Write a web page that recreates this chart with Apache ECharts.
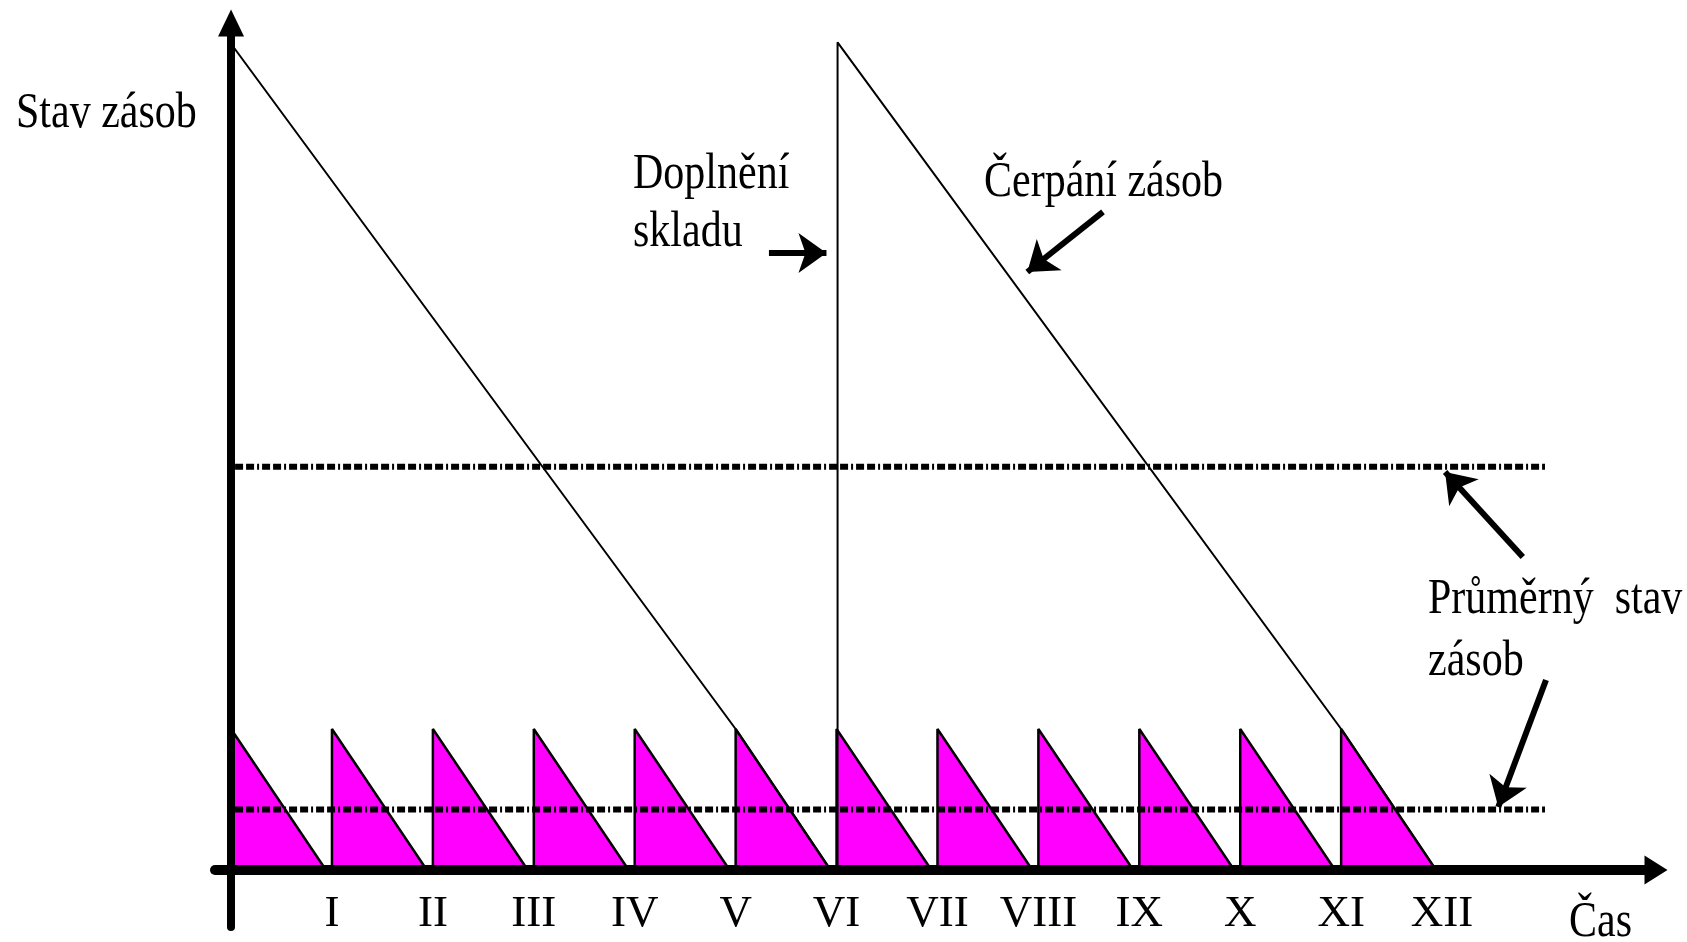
<!DOCTYPE html>
<html>
<head>
<meta charset="utf-8">
<style>
html,body{margin:0;padding:0;background:#fff;}
#chart{width:1687px;height:942px;}
</style>
<script src="https://cdn.jsdelivr.net/npm/echarts@6/dist/echarts.min.js"></script>
</head>
<body>
<div id="chart"></div>
<script>
// ---- data ----
// x in months (0 = start), y in units where one small delivery = 1
const tickMonths = [1, 2, 3, 4, 5, 6, 7, 8, 9, 10, 11, 12];
const tickLabels = ['I', 'II', 'III', 'IV', 'V', 'VI', 'VII', 'VIII', 'IX', 'X', 'XI', 'XII'];

// frequent small deliveries (monthly)
const smallRefillMonths = [0, 1, 2, 3, 4, 5, 6, 7, 8, 9, 10, 11];
const smallPeaks = [1, 1, 1, 1, 1, 1, 1, 1, 1, 1, 1, 1];
const smallEmptyMonths = [0.94, 1.94, 2.94, 3.94, 4.94, 5.94, 6.94, 7.94, 8.94, 9.94, 10.94, 11.94];

// large deliveries (twice a year); the falling line meets the last small peak
const bigRefillMonths = [0, 6.01];
const bigPeaks = [5.86, 5.87];
const bigJoinMonths = [5, 11];
const bigJoinValues = [1, 1];
const bigEmptyMonths = [5.94, 11.94];

// average stock levels
const avgBig = 2.86;
const avgSmall = 0.43;
const avgStartMonth = 0.04;
const avgEndMonth = 13.02;

// annotation arrows: [fromMonth, fromValue, toMonth, toValue]
const arrowRefill = [5.33, 4.376, 5.90, 4.376];
const arrowDraw = [8.64, 4.667, 7.89, 4.241];
const arrowAvgBig = [12.80, 2.22, 12.03, 2.823];
const arrowAvgSmall = [13.03, 1.348, 12.557, 0.447];

// ---- build series data ----
const smallData = [];
smallRefillMonths.forEach(function (m, i) {
  smallData.push([m, 0], [m, smallPeaks[i]], [smallEmptyMonths[i], 0]);
});
const bigData = [];
bigRefillMonths.forEach(function (m, i) {
  bigData.push([m, 0], [m, bigPeaks[i]], [bigJoinMonths[i], bigJoinValues[i]], [bigEmptyMonths[i], 0]);
});
function arrowPair(a) {
  return [{ coord: [a[0], a[1]] }, { coord: [a[2], a[3]] }];
}

const FONT = "'Liberation Serif', 'Times New Roman', serif";
const chart = echarts.init(document.getElementById('chart'), null, { renderer: 'canvas' });

function txt(text, x, y) {
  return {
    type: 'text', x: x, y: y, scaleY: 1.22, silent: true,
    style: { text: text, fill: '#000', font: '42px ' + FONT, textAlign: 'left', textVerticalAlign: 'top' }
  };
}

chart.setOption({
  animation: false,
  backgroundColor: '#fff',
  grid: {
    left: 215, right: 31, top: 23, bottom: 15, containLabel: false,
    outerBounds: { left: -200, top: -200, right: -200, bottom: -200 }
  },
  xAxis: {
    type: 'value', min: -0.159, max: 14.12, z: 5,
    axisLine: { show: true, onZero: true, symbol: ['none', 'triangle'], symbolSize: [29, 23],
      lineStyle: { color: '#000', width: 10 } },
    axisTick: { show: false },
    splitLine: { show: false },
    axisLabel: {
      show: true, customValues: tickMonths, margin: -35,
      color: '#000', fontFamily: FONT, fontSize: 45,
      formatter: function (v) {
        const i = tickMonths.indexOf(Math.round(v));
        return i >= 0 ? tickLabels[i] : '';
      }
    }
  },
  yAxis: {
    type: 'value', min: -0.404, max: 6.007, z: 5,
    axisLine: { show: true, onZero: true, symbol: ['none', 'triangle'], symbolSize: [26, 27],
      lineStyle: { color: '#000', width: 8 } },
    axisTick: { show: false },
    axisLabel: { show: false },
    splitLine: { show: false }
  },
  graphic: [
    txt('Stav zásob', 16, 88),
    txt('Doplnění', 633, 149),
    txt('skladu', 633, 207),
    txt('Čerpání zásob', 984, 157),
    txt('Průměrný  stav', 1428, 574),
    txt('zásob', 1428, 636),
    txt('Čas', 1569, 897)
  ],
  series: [
    {
      name: 'Malé dodávky', type: 'line', data: smallData, showSymbol: false, z: 2,
      lineStyle: { color: '#000', width: 2.5 },
      areaStyle: { color: '#FF00FF', opacity: 1 }
    },
    {
      name: 'Velké dodávky', type: 'line', data: bigData, showSymbol: false, z: 3,
      lineStyle: { color: '#000', width: 2 }
    },
    {
      name: 'Průměr velké', type: 'line', data: [[avgStartMonth, avgBig], [avgEndMonth, avgBig]],
      showSymbol: false, z: 4,
      lineStyle: { color: '#000', width: 6, type: [8, 3, 8, 3, 2, 3] }
    },
    {
      name: 'Průměr malé', type: 'line', data: [[avgStartMonth, avgSmall], [avgEndMonth, avgSmall]],
      showSymbol: false, z: 4,
      lineStyle: { color: '#000', width: 6, type: [8, 3, 8, 3, 2, 3] },
      markLine: {
        silent: true, symbol: ['none', 'arrow'], symbolSize: [30, 28],
        label: { show: false },
        lineStyle: { color: '#000', width: 6, type: 'solid' },
        emphasis: { disabled: true },
        data: [arrowPair(arrowRefill), arrowPair(arrowDraw), arrowPair(arrowAvgBig), arrowPair(arrowAvgSmall)]
      }
    }
  ]
});
</script>
</body>
</html>
